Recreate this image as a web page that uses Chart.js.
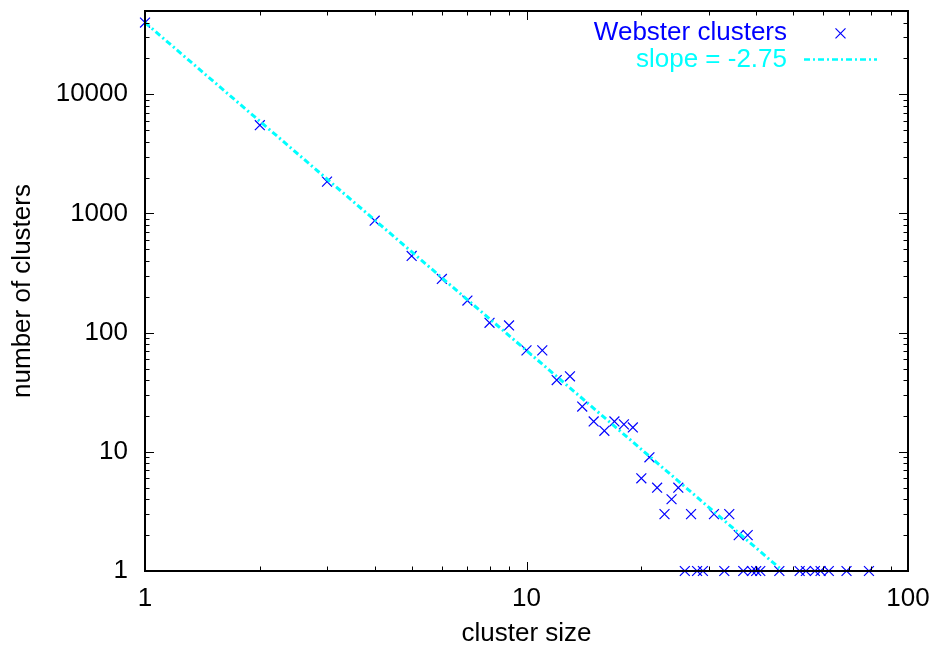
<!DOCTYPE html>
<html>
<head>
<meta charset="utf-8">
<script src="https://cdn.jsdelivr.net/npm/chart.js@4.4.1/dist/chart.umd.min.js"></script>
<style>
html,body{margin:0;padding:0;background:#ffffff;}
#wrap{width:934px;height:649px;position:relative;}
</style>
</head>
<body>
<div id="wrap"><canvas id="c" width="934" height="649"></canvas></div>
<script>
// ---- data ----
const clusterSizes  = [1, 2, 3, 4, 5, 6, 7, 8, 9, 10, 11, 12, 13, 14, 15, 16, 17, 18, 19, 20,
                       21, 22, 23, 24, 25, 27, 31, 34, 36, 38,
                       26, 28, 29, 33, 37, 39, 40, 41, 46, 52, 54, 57, 59, 62, 69, 79];
const clusterCounts = [40000, 5500, 1850, 870, 440, 282, 186, 121, 115, 71, 71, 40, 43, 24, 18, 15, 18, 17, 16, 6,
                       9, 5, 3, 4, 5, 3, 3, 3, 2, 2,
                       1, 1, 1, 1, 1, 1, 1, 1, 1, 1, 1, 1, 1, 1, 1, 1];
const fitX = [1, 47];
const fitY = [40000, 1];
const seriesLabels = ['Webster clusters', 'slope = -2.75'];
const xTickValues = [1, 10, 100];
const xTickLabels = ['1', '10', '100'];
const yTickValues = [1, 10, 100, 1000, 10000];
const yTickLabels = ['1', '10', '100', '1000', '10000'];
const xTitle = 'cluster size';
const yTitle = 'number of clusters';

// ---- styles ----
const BLUE = '#0000ff';
const CYAN = '#00ffff';
const FONT_FAMILY = '"Liberation Sans", Arial, Helvetica, sans-serif';
const FONT_SIZE = 26;
const FIT_DASH = [6, 3, 2, 3];

const scatterPoints = clusterSizes.map((x, i) => ({x: x, y: clusterCounts[i]}));
const fitPoints = fitX.map((x, i) => ({x: x, y: fitY[i]}));

function logMinorTicks(min, max) {
  const out = [];
  const e0 = Math.floor(Math.log10(min)), e1 = Math.ceil(Math.log10(max));
  for (let e = e0; e <= e1; e++) {
    for (let m = 1; m <= 9; m++) {
      const v = m * Math.pow(10, e);
      if (v >= min * 0.9999 && v <= max * 1.0001) out.push({v: v, major: m === 1});
    }
  }
  return out;
}

const framePlugin = {
  id: 'frame',
  afterDatasetsDraw(chart) {
    const {ctx, chartArea: a, scales: {x, y}} = chart;
    ctx.save();
    ctx.strokeStyle = '#000000';
    ctx.lineWidth = 1;
    ctx.beginPath();
    for (const t of logMinorTicks(x.min, x.max)) {
      const px = Math.round(x.getPixelForValue(t.v)) + 0.5;
      const L = t.major ? 9 : 4.5;
      ctx.moveTo(px, a.bottom); ctx.lineTo(px, a.bottom - L);
      ctx.moveTo(px, a.top); ctx.lineTo(px, a.top + L);
    }
    for (const t of logMinorTicks(y.min, y.max)) {
      const py = Math.round(y.getPixelForValue(t.v)) + 0.5;
      const L = t.major ? 9 : 4.5;
      ctx.moveTo(a.left, py); ctx.lineTo(a.left + L, py);
      ctx.moveTo(a.right, py); ctx.lineTo(a.right - L, py);
    }
    ctx.stroke();
    ctx.lineWidth = 2;
    ctx.strokeRect(a.left, a.top, a.right - a.left, a.bottom - a.top);
    ctx.restore();
  },
  afterDraw(chart) {
    // key, gnuplot style: text right-aligned, sample to the right
    const {ctx, chartArea: a} = chart;
    const ds = chart.data.datasets;
    const textRight = a.right - 121;
    const sampleL = a.right - 104, sampleR = a.right - 31;
    const rows = [a.top + 22.3, a.top + 48.6];
    ctx.save();
    ctx.font = FONT_SIZE + 'px ' + FONT_FAMILY;
    ctx.textAlign = 'right';
    ctx.textBaseline = 'middle';
    // row 1: points
    ctx.fillStyle = ds[0].borderColor;
    ctx.fillText(ds[0].label, textRight, rows[0]);
    const cx = (sampleL + sampleR) / 2, cy = rows[0], r = 5;
    ctx.strokeStyle = ds[0].borderColor;
    ctx.lineWidth = 1.2;
    ctx.beginPath();
    ctx.moveTo(cx - r, cy - r); ctx.lineTo(cx + r, cy + r);
    ctx.moveTo(cx - r, cy + r); ctx.lineTo(cx + r, cy - r);
    ctx.stroke();
    // row 2: line
    ctx.fillStyle = ds[1].borderColor;
    ctx.fillText(ds[1].label, textRight, rows[1]);
    ctx.strokeStyle = ds[1].borderColor;
    ctx.lineWidth = 2.5;
    ctx.setLineDash(ds[1].borderDash);
    ctx.beginPath();
    ctx.moveTo(sampleL, rows[1]); ctx.lineTo(sampleR, rows[1]);
    ctx.stroke();
    ctx.restore();
  }
};

Chart.defaults.font.family = FONT_FAMILY;
Chart.defaults.font.size = FONT_SIZE;
Chart.defaults.color = '#000000';

new Chart(document.getElementById('c'), {
  type: 'scatter',
  data: {
    datasets: [
      {
        label: seriesLabels[0],
        data: scatterPoints,
        showLine: false,
        pointStyle: 'crossRot',
        pointRadius: 7,
        pointHoverRadius: 7,
        borderColor: BLUE,
        backgroundColor: BLUE,
        borderWidth: 1.2,
        clip: false,
        order: 1
      },
      {
        type: 'line',
        label: seriesLabels[1],
        data: fitPoints,
        borderColor: CYAN,
        backgroundColor: CYAN,
        borderWidth: 3,
        borderDash: FIT_DASH,
        pointRadius: 0,
        fill: false,
        tension: 0,
        order: 0
      }
    ]
  },
  options: {
    responsive: false,
    animation: false,
    devicePixelRatio: 1,
    layout: {padding: {left: 0, top: 11, right: 26, bottom: 0}},
    plugins: {
      legend: {display: false},
      tooltip: {enabled: false}
    },
    scales: {
      x: {
        type: 'logarithmic',
        min: 1,
        max: 100,
        grid: {display: false, drawTicks: false},
        border: {display: false},
        afterBuildTicks: (s) => { s.ticks = xTickValues.map(v => ({value: v})); },
        afterFit: (s) => { s.height = 78; s.paddingLeft = 0; s.paddingRight = 0; s.paddingTop = 0; s.paddingBottom = 0; },
        ticks: {
          padding: 12,
          maxRotation: 0,
          autoSkip: false,
          callback: (v) => { const i = xTickValues.indexOf(v); return i >= 0 ? xTickLabels[i] : ''; }
        },
        title: {display: true, text: xTitle, padding: {top: 0, bottom: 0}}
      },
      y: {
        type: 'logarithmic',
        min: 1,
        max: 50000,
        grid: {display: false, drawTicks: false},
        border: {display: false},
        afterBuildTicks: (s) => { s.ticks = yTickValues.map(v => ({value: v})); },
        afterFit: (s) => { s.width = 145; s.paddingLeft = 0; s.paddingRight = 0; s.paddingTop = 0; s.paddingBottom = 0; },
        ticks: {
          padding: 17,
          autoSkip: false,
          callback: (v) => { const i = yTickValues.indexOf(v); return i >= 0 ? yTickLabels[i] : ''; }
        },
        title: {display: true, text: yTitle, padding: {top: 7, bottom: 0}}
      }
    }
  },
  plugins: [framePlugin]
});
</script>
</body>
</html>
